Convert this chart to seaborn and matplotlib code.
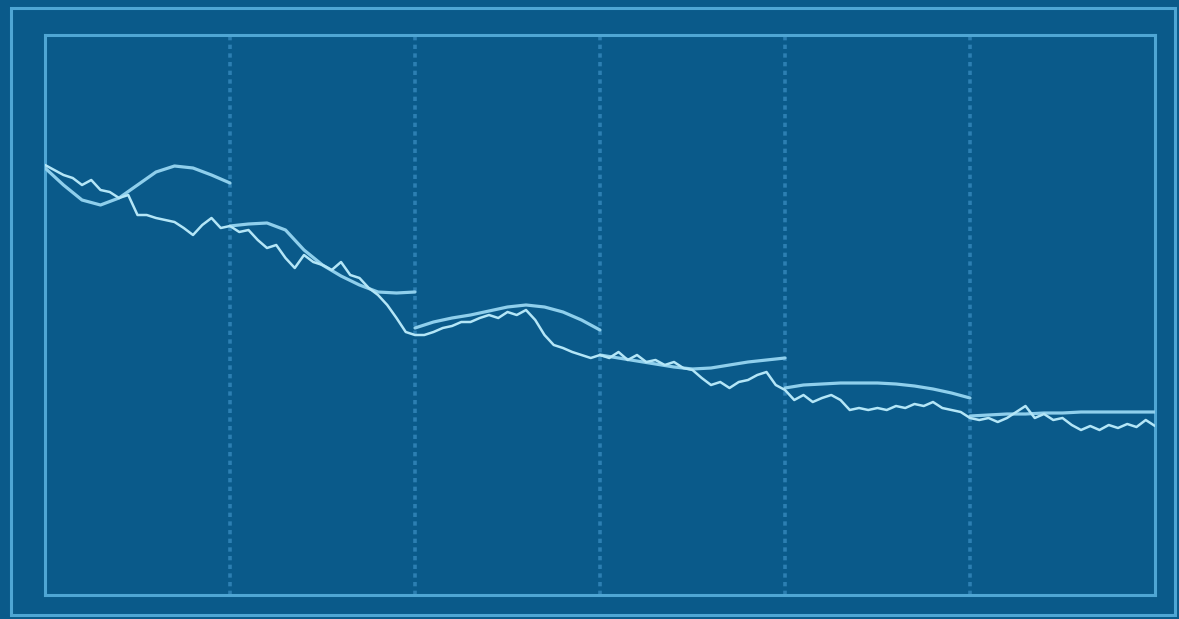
import matplotlib
matplotlib.use('Agg')

import numpy as np
import pandas as pd
import seaborn as sns
import matplotlib.pyplot as plt
from matplotlib.patches import Rectangle

# actual series, 20 readings per period, 6 periods
actual = [
    430, 425, 420, 417, 410, 415, 405, 403, 397, 400,
    380, 380, 377, 375, 373, 367, 360, 370, 377, 367,
    369, 363, 365, 355, 347, 350, 337, 327, 340, 333,
    330, 325, 333, 320, 317, 307, 300, 290, 277, 263,
    260, 260, 263, 267, 269, 273, 273, 277, 280, 277,
    283, 280, 285, 275, 260, 250, 247, 243, 240, 237,
    240, 237, 243, 235, 240, 233, 235, 230, 233, 227,
    225, 217, 210, 213, 207, 213, 215, 220, 223, 210,
    205, 195, 200, 193, 197, 200, 195, 185, 187, 185,
    187, 185, 189, 187, 191, 189, 193, 187, 185, 183,
    177, 175, 177, 173, 177, 183, 189, 177, 181, 175,
    177, 170, 165, 169, 165, 170, 167, 171, 168, 175,
    169,
]

# forecasts made at the start of each period (10 steps each)
forecast_1 = [427, 410, 395, 390, 397, 410, 423, 429, 427, 420, 412]
forecast_2 = [369, 371, 372, 365, 345, 330, 319, 310, 303, 302, 303]
forecast_3 = [267, 273, 277, 280, 284, 288, 290, 288, 283, 275, 265]
forecast_4 = [240, 237, 234, 231, 228, 226, 227, 230, 233, 235, 237]
forecast_5 = [207, 210, 211, 212, 212, 212, 211, 209, 206, 202, 197]
forecast_6 = [179, 180, 181, 181, 182, 182, 183, 183, 183, 183, 183]
forecasts = [forecast_1, forecast_2, forecast_3, forecast_4, forecast_5, forecast_6]

BG = '#0a5a8a'
FRAME = '#4fa6d4'
GRID = '#2c7fb2'

actual_df = pd.DataFrame({
    't': np.arange(len(actual)) / 20.0,
    'value': actual,
})

rows = []
for k, fc in enumerate(forecasts):
    for j, v in enumerate(fc):
        rows.append({'t': k + j / 10.0, 'value': v, 'segment': k})
forecast_df = pd.DataFrame(rows)

sns.set_style('dark', {'axes.facecolor': BG, 'figure.facecolor': BG})

fig = plt.figure(figsize=(11.79, 6.19), dpi=100)
W, H = 1179, 619
ax = fig.add_axes([45 / W, (H - 595) / H, (1155 - 45) / W, (595 - 35) / H])

# outer decorative frame
fig.patches.append(Rectangle((11 / W, (H - 615) / H), (1175 - 11) / W, (615 - 8) / H,
                             transform=fig.transFigure, fill=False,
                             edgecolor=FRAME, linewidth=2.2, zorder=0))

for xv in range(1, 6):
    ax.axvline(xv, color=GRID, linewidth=2.6, linestyle=(0, (1.2, 1.2)), zorder=1)

sns.lineplot(data=forecast_df, x='t', y='value', units='segment', estimator=None,
             color='#8fcfec', linewidth=2.3, ax=ax, zorder=3)
sns.lineplot(data=actual_df, x='t', y='value', color='#b4e6f7',
             linewidth=1.8, ax=ax, zorder=4)

ax.set_xlim(0, 6)
ax.set_ylim(0, 560)
ax.set_xticks([])
ax.set_yticks([])
ax.set_xlabel('')
ax.set_ylabel('')
ax.grid(False)
for s in ax.spines.values():
    s.set_visible(True)
    s.set_color(FRAME)
    s.set_linewidth(2.2)

fig.savefig('out.png', dpi=100, facecolor=BG)
